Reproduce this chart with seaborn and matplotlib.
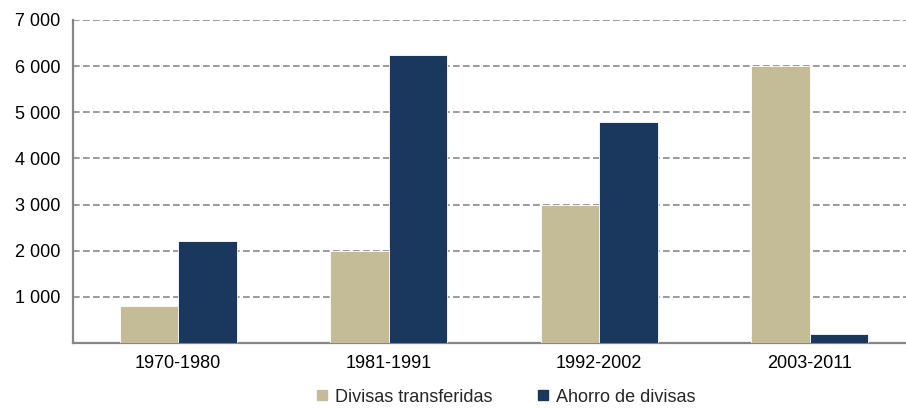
import matplotlib
matplotlib.use("Agg")
import matplotlib.pyplot as plt
import matplotlib.ticker as mticker
from matplotlib.lines import Line2D
import seaborn as sns
import pandas as pd

periods = ["1970-1980", "1981-1991", "1992-2002", "2003-2011"]
divisas_transferidas = [800, 2000, 3000, 6000]
ahorro_divisas = [2200, 6250, 4800, 200]
series_names = ["Divisas transferidas", "Ahorro de divisas"]
y_ticks = [1000, 2000, 3000, 4000, 5000, 6000, 7000]

tan = "#C4BC96"
navy = "#1A375E"

df = pd.DataFrame({
    "periodo": periods * 2,
    "valor": divisas_transferidas + ahorro_divisas,
    "serie": [series_names[0]] * len(periods) + [series_names[1]] * len(periods),
})

sns.set_theme(style="white")
plt.rcParams["font.family"] = ["Liberation Sans", "DejaVu Sans"]

fig = plt.figure(figsize=(9.06, 4.08), dpi=100)
ax = fig.add_axes([73 / 906, 1 - 343 / 408, (915 - 73) / 906, (343 - 20) / 408])

sns.barplot(data=df, x="periodo", y="valor", hue="serie", order=periods,
            hue_order=series_names, palette=[tan, navy], width=0.555, gap=0,
            edgecolor="white", linewidth=0.6, saturation=1, ax=ax, legend=False,
            zorder=3)

ax.set_ylim(0, 7000)
ax.set_xlim(-0.5, 3.5)
ax.set_yticks(y_ticks)
ax.yaxis.set_major_formatter(mticker.FuncFormatter(lambda v, p: f"{int(v):,}".replace(",", " ")))
ax.yaxis.grid(True, linestyle=(0, (4, 2)), color="#8A8A8A", linewidth=1.2, zorder=0)
ax.set_axisbelow(True)

# category boundaries as tick marks on the x axis
ax.tick_params(axis="x", which="major", length=0, labelsize=13, pad=9, colors="black")
ax.tick_params(axis="y", which="major", length=5, width=1.5, color="#868686",
               direction="out", labelsize=13, pad=4, labelcolor="black")
ax.minorticks_on()
ax.yaxis.set_minor_locator(mticker.NullLocator())
ax.set_xticks([-0.5, 0.5, 1.5, 2.5, 3.5], minor=True)
ax.tick_params(axis="x", which="minor", length=5, width=1.5, color="#868686", direction="out")
# extra tick at 0 on the y axis
ax.set_yticks([0], minor=True)
ax.tick_params(axis="y", which="minor", length=5, width=1.5, color="#868686", direction="out")

for side in ["top", "right"]:
    ax.spines[side].set_visible(False)
for side in ["left", "bottom"]:
    ax.spines[side].set_color("#868686")
    ax.spines[side].set_linewidth(1.6)
ax.set_xlabel("")
ax.set_ylabel("")

handles = [Line2D([], [], marker="s", linestyle="none", markersize=7,
                  markerfacecolor=c, markeredgecolor=c) for c in (tan, navy)]
fig.legend(handles, series_names, loc="center", bbox_to_anchor=(505 / 906, 1 - 397 / 408),
           ncol=2, frameon=False, fontsize=13, handletextpad=0.3, columnspacing=2.4,
           handlelength=0.8)

fig.savefig("out.png", dpi=100)
